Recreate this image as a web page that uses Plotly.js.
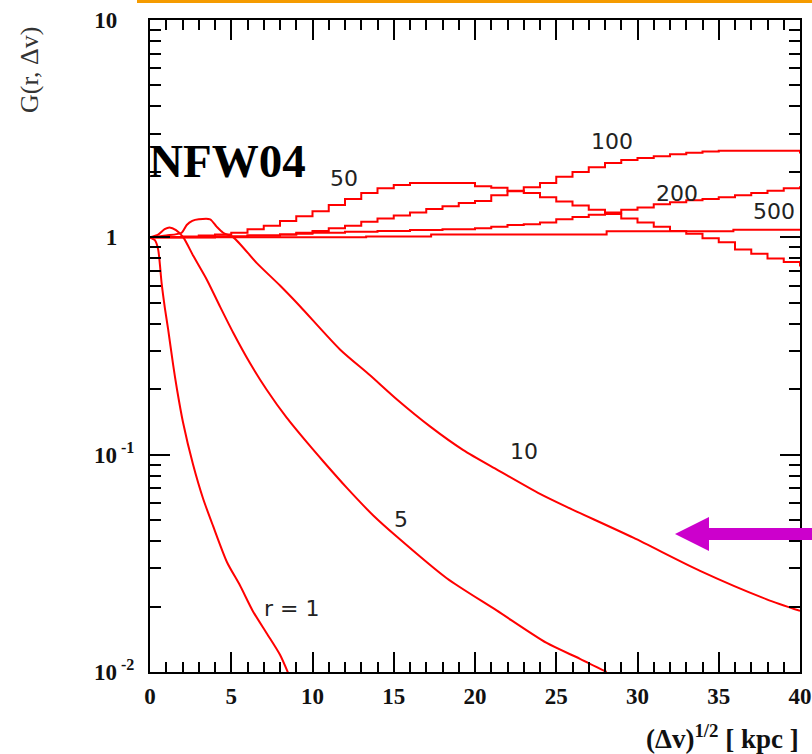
<!DOCTYPE html>
<html>
<head>
<meta charset="utf-8">
<script src="https://cdn.plot.ly/plotly-3.0.1.min.js"></script>
<style>
  html, body { margin: 0; padding: 0; background: #ffffff; }
  #chart { width: 812px; height: 754px; }
</style>
</head>
<body>
<div id="chart"></div>
<script>
// G(r, Δv) for the NFW04 profile, one curve per distance r (kpc)

// steep curves (small r)
const xR1 = [0, 0.3, 0.5, 0.72, 0.92, 1.11, 1.42, 1.66, 2.03, 2.65, 3.26, 3.88, 4.74, 5.54, 6.34, 7.2, 8.0, 8.5];
const gR1 = [1.0, 0.97, 0.88, 0.61, 0.47, 0.38, 0.26, 0.20, 0.141, 0.090, 0.063, 0.047, 0.032, 0.025, 0.019, 0.015, 0.012, 0.0099];

const xR5 = [0, 0.5, 0.9, 1.2, 1.6, 2.05, 2.67, 3.49, 4.31, 5.13, 6.15, 7.18, 8.41, 9.74, 10.67, 12.1, 13.74, 15.18, 18.26, 21.33, 24.41, 26.46, 28.1];
const gR5 = [1.0, 1.03, 1.09, 1.11, 1.08, 1.0, 0.82, 0.64, 0.48, 0.363, 0.264, 0.199, 0.148, 0.112, 0.093, 0.0705, 0.0525, 0.042, 0.027, 0.0192, 0.0136, 0.0115, 0.0100];

const xR10 = [0, 1.0, 1.95, 2.26, 2.6, 3.0, 3.7, 4.1, 4.5, 5.13, 6.56, 8.0, 9.23, 11.69, 13.54, 15.18, 17.23, 19.28, 21.4, 24.0, 25.64, 29.74, 33.85, 37.95, 40];
const gR10 = [1.0, 1.02, 1.05, 1.14, 1.19, 1.21, 1.21, 1.12, 1.05, 1.0, 0.763, 0.60, 0.482, 0.305, 0.232, 0.180, 0.135, 0.105, 0.085, 0.066, 0.0575, 0.0415, 0.0292, 0.0216, 0.0191];

// binned curves (large r), one value per 1 kpc bin
const xBins = [0, 1, 2, 3, 4, 5, 6, 7, 8, 9, 10, 11, 12, 13, 14, 15, 16, 17, 18, 19, 20,
               21, 22, 23, 24, 25, 26, 27, 28, 29, 30, 31, 32, 33, 34, 35, 36, 37, 38, 39, 40];
const gR50 = [1.00, 1.00, 1.01, 1.02, 1.03, 1.05, 1.09, 1.13, 1.19, 1.25, 1.32, 1.41, 1.50, 1.60, 1.68, 1.74, 1.78, 1.78, 1.78, 1.78, 1.72,
              1.69, 1.64, 1.60, 1.53, 1.46, 1.40, 1.34, 1.28, 1.22, 1.17, 1.12, 1.07, 1.04, 0.99, 0.95, 0.88, 0.84, 0.80, 0.77, 0.734];
const gR100 = [1.00, 1.00, 1.00, 1.00, 1.01, 1.01, 1.02, 1.02, 1.03, 1.05, 1.07, 1.10, 1.13, 1.18, 1.22, 1.26, 1.30, 1.35, 1.39, 1.44, 1.47,
               1.56, 1.63, 1.70, 1.78, 1.90, 2.00, 2.10, 2.20, 2.27, 2.32, 2.36, 2.41, 2.45, 2.48, 2.50, 2.50, 2.50, 2.50, 2.50, 2.43];
const gR200 = [1.00, 1.00, 1.00, 1.00, 1.01, 1.01, 1.02, 1.02, 1.03, 1.04, 1.05, 1.05, 1.06, 1.06, 1.07, 1.07, 1.08, 1.08, 1.09, 1.09, 1.10,
               1.12, 1.14, 1.15, 1.17, 1.21, 1.24, 1.27, 1.30, 1.34, 1.37, 1.42, 1.45, 1.48, 1.50, 1.53, 1.56, 1.60, 1.64, 1.68, 1.72];
const xR500 = [0, 13.3, 17.3, 28.1, 35.9, 40];
const gR500 = [1.0, 1.01, 1.03, 1.066, 1.085, 1.085];

// labels
const curveLabels = ["r = 1", "5", "10", "50", "100", "200", "500"];
const xTickVals = [0, 5, 10, 15, 20, 25, 30, 35, 40];
const xTickText = ["0", "5", "10", "15", "20", "25", "30", "35", "40"];
const yTickVals = [0.01, 0.1, 1, 10];
const yTickText = ["10<sup> -2</sup>", "10<sup> -1</sup>", "1&nbsp;&nbsp;&nbsp;", "10&nbsp;&nbsp;&nbsp;"];
const yTitle = "G(r, \u0394v)";
const xTitle = "(\u0394v)<sup>1/2</sup> [ kpc ]";
const modelName = "NFW04";

// plot frame in page pixels
const W = 812, H = 754, L = 150, R = 800, T = 20, B = 672;
const px = (x) => (x - L) / (R - L);
const py = (y) => (B - y) / (B - T);

const red = '#ff0000';
function curve(x, y, shape) {
  const line = { color: red, width: 2, shape: shape || 'linear' };
  if (shape === 'spline') line.smoothing = 0.7;
  return { x: x, y: y, type: 'scatter', mode: 'lines', line: line,
           hoverinfo: 'skip', showlegend: false };
}

const traces = [
  curve(xR1, gR1, 'spline'), curve(xR5, gR5, 'spline'), curve(xR10, gR10, 'spline'),
  curve(xBins, gR50, 'hv'), curve(xBins, gR100, 'hv'),
  curve(xBins, gR200, 'hv'), curve(xR500, gR500, 'hv')
];

// minor tick positions on the log axis: 2..9 in each decade
const yMinor = [];
[0.01, 0.1, 1].forEach(d => { for (let k = 2; k <= 9; k++) yMinor.push(+(k * d).toPrecision(3)); });

const serif = 'Liberation Serif, Times New Roman, serif';
const tickFont = { family: serif, size: 23, color: '#111', weight: 'bold' };

// curve label positions (page pixels)
const labelPos = [[291, 608], [401, 519], [524, 452], [344, 178], [612, 141], [677, 193], [774, 212]];
const annotations = curveLabels.map((t, i) => ({
  text: t, xref: 'paper', yref: 'paper', x: px(labelPos[i][0]), y: py(labelPos[i][1]),
  xanchor: 'center', yanchor: 'middle', showarrow: false,
  font: { family: 'DejaVu Sans, sans-serif', size: 22, color: '#222' }
}));
annotations.push(
  { text: modelName, xref: 'paper', yref: 'paper', x: px(147), y: py(161), xanchor: 'left', yanchor: 'middle',
    showarrow: false, font: { family: serif, size: 47, color: '#000', weight: 'bold' } },
  { text: yTitle, xref: 'paper', yref: 'paper', x: px(29), y: py(70), xanchor: 'center', yanchor: 'middle',
    textangle: -90, showarrow: false, font: { family: serif, size: 26, color: '#333' } },
  { text: xTitle, xref: 'paper', yref: 'paper', x: px(801), y: py(737), xanchor: 'right', yanchor: 'middle',
    showarrow: false, font: { family: serif, size: 27, color: '#111', weight: 'bold' } }
);

// magenta arrow pointing left
const arrowPts = [[675, 534], [709, 517], [709, 528], [815, 528], [815, 540], [709, 540], [709, 551]];
const arrowPath = 'M ' + arrowPts.map(p => px(p[0]).toFixed(5) + ',' + py(p[1]).toFixed(5)).join(' L ') + ' Z';

const shapes = [
  { type: 'line', xref: 'paper', yref: 'paper', x0: px(137), x1: px(815), y0: py(1.5), y1: py(1.5),
    line: { color: '#f59b00', width: 3 } },
  { type: 'path', xref: 'paper', yref: 'paper', path: arrowPath, fillcolor: '#cc00cc',
    line: { width: 0 }, layer: 'above' }
];

const axisCommon = {
  showline: true, linecolor: '#000', linewidth: 2, mirror: 'ticks',
  ticks: 'inside', ticklen: 20, tickwidth: 2, tickcolor: '#000',
  showgrid: false, zeroline: false, tickfont: tickFont
};

const layout = {
  width: W, height: H,
  margin: { l: L, r: W - R, t: T, b: H - B, pad: 0 },
  paper_bgcolor: '#ffffff', plot_bgcolor: '#ffffff',
  showlegend: false,
  xaxis: Object.assign({}, axisCommon, {
    range: [0, 40], tickmode: 'array', tickvals: xTickVals, ticktext: xTickText,
    ticklabelstandoff: 2,
    minor: { dtick: 1, ticks: 'inside', ticklen: 10, tickwidth: 2, tickcolor: '#000', showgrid: false }
  }),
  yaxis: Object.assign({}, axisCommon, {
    type: 'log', range: [-2, 1], tickmode: 'array', tickvals: yTickVals, ticktext: yTickText,
    ticklabelstandoff: 9,
    minor: { tickmode: 'array', tickvals: yMinor, ticks: 'inside', ticklen: 11, tickwidth: 2, tickcolor: '#000', showgrid: false }
  }),
  annotations: annotations,
  shapes: shapes
};

Plotly.newPlot('chart', traces, layout, { staticPlot: true, displayModeBar: false });
</script>
</body>
</html>
